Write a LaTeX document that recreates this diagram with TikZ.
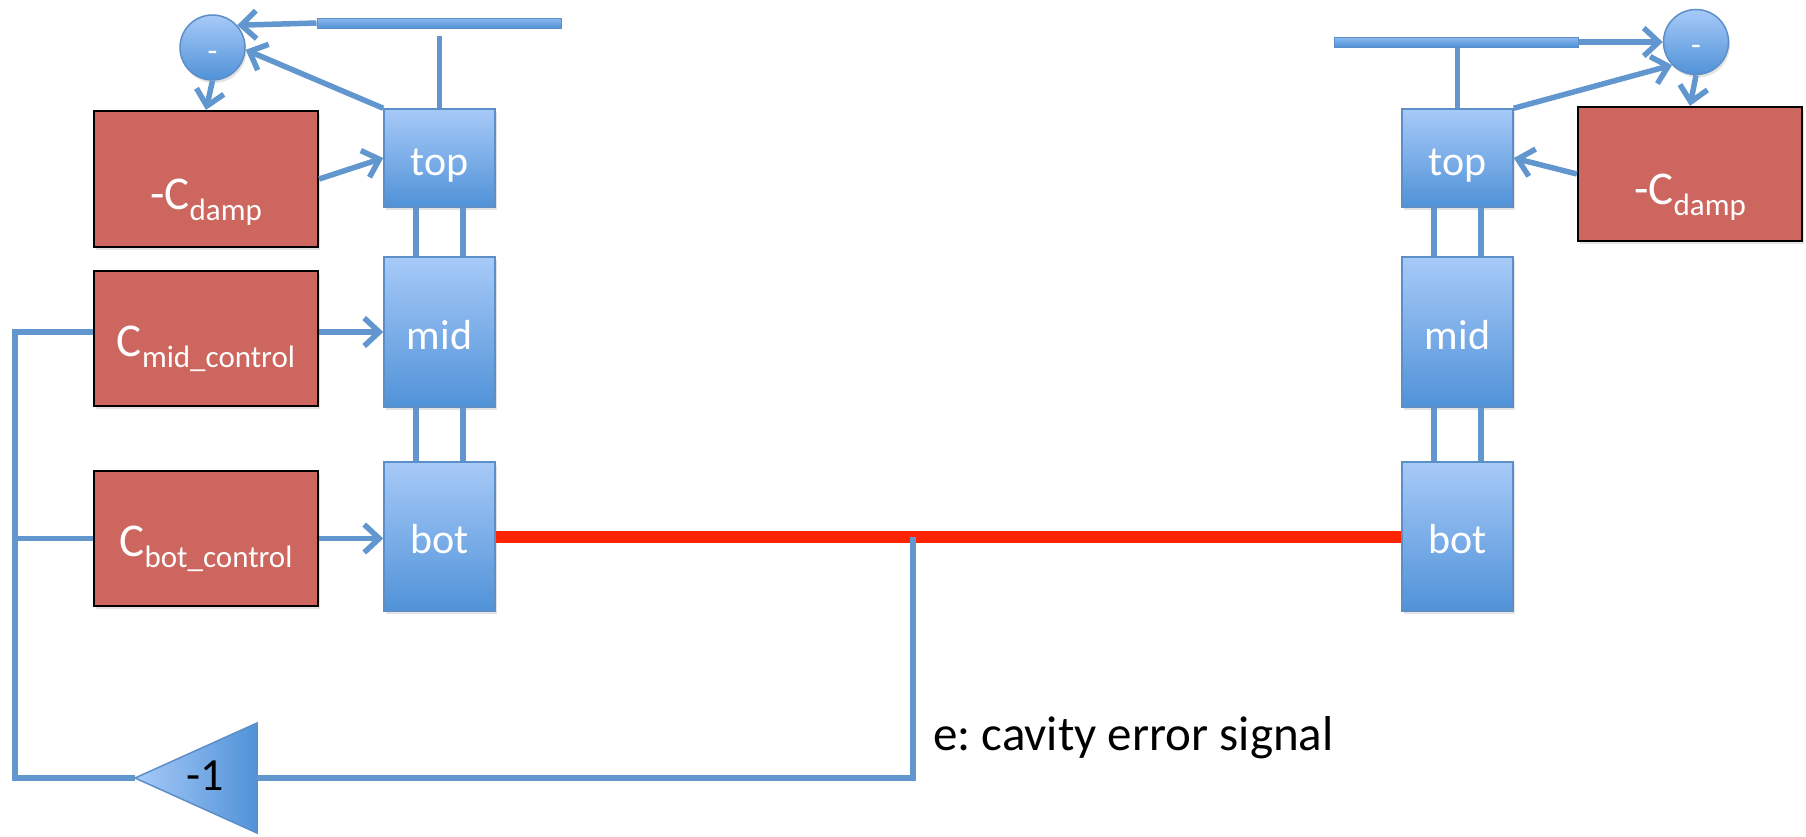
\documentclass[tikz,border=0pt]{standalone}
\usepackage{fontspec}
\setmainfont{Carlito}
\usetikzlibrary{arrows.meta,shadows,calc}

\definecolor{boxtop}{RGB}{167,202,248}
\definecolor{boxbot}{RGB}{80,146,216}
\definecolor{boxedge}{RGB}{92,142,200}
\definecolor{wireblue}{RGB}{98,150,206}
\definecolor{ctrlred}{RGB}{205,102,94}
\definecolor{cavred}{RGB}{255,36,0}

% lowered, smaller text used as a subscript inside the controller boxes
\newcommand{\lowtext}[1]{\raisebox{-0.25em}{\fontsize{31}{31}\selectfont #1}}

\begin{document}
\frenchspacing
\begin{tikzpicture}[x=1pt,y=-1pt,
  softshadow/.style={drop shadow={opacity=0.22,shadow xshift=1.5pt,shadow yshift=-3pt}},
  stage/.style={draw=boxedge, line width=1.5pt, top color=boxtop, bottom color=boxbot,
    text=white, minimum width=111pt, inner sep=0pt, font=\fontsize{42}{42}\selectfont,
    text height=34pt, text depth=0pt, softshadow},
  ctrl/.style={draw=black, line width=2.2pt, fill=ctrlred, text=white,
    minimum width=224pt, minimum height=135pt, inner sep=0pt, text depth=0pt,
    font=\fontsize{47}{47}\selectfont, softshadow},
  sumcirc/.style={circle, draw=boxedge, line width=1.5pt, top color=boxtop, bottom color=boxbot,
    minimum size=65pt, inner sep=0pt, text=white, font=\fontsize{32}{32}\selectfont,
    text height=27pt, text depth=0pt, softshadow},
  railbar/.style={draw=boxedge, line width=1pt, top color=boxtop!70!boxbot, bottom color=boxbot,
    minimum width=244pt, minimum height=10pt, inner sep=0pt},
  wire/.style={draw=wireblue, line width=5.5pt},
  arr/.style={wire, -{Straight Barb[length=15pt,width=28pt]}}
]
\useasboundingbox (0,0) rectangle (1806,836);

% left suspension chain
\node[stage, minimum height=98pt]  (ltop) at (439.5,158)   {top};
\node[stage, minimum height=150pt] (lmid) at (439.5,332)   {mid};
\node[stage, minimum height=149pt] (lbot) at (439.5,536.5) {bot};

% right suspension chain
\node[stage, minimum height=98pt]  (rtop) at (1457.5,158)   {top};
\node[stage, minimum height=150pt] (rmid) at (1457.5,332)   {mid};
\node[stage, minimum height=149pt] (rbot) at (1457.5,536.5) {bot};

% controllers
\node[ctrl, minimum height=136pt, text height=60pt] (ldamp) at (206,179)   {-C\lowtext{damp}};
\node[ctrl, text height=35pt]                       (lmidc) at (206,338.5) {C\lowtext{mid\_control}};
\node[ctrl, text height=35pt]                       (lbotc) at (206,538.5) {C\lowtext{bot\_control}};
\node[ctrl, minimum height=134pt, text height=60pt] (rdamp) at (1690,174)  {-C\lowtext{damp}};

% summing junctions and suspension points
\node[sumcirc] (lsum) at (212.5,47.5) {-};
\node[sumcirc] (rsum) at (1696,42)    {-};
\node[railbar] (lbar) at (439,23)     {};
\node[railbar] (rbar) at (1456.5,42)  {};

% links between stages
\foreach \dx in {-23.5,23.5} {
  \draw[wire] ($(ltop.south)+(\dx,0)$) -- ($(lmid.north)+(\dx,0)$);
  \draw[wire] ($(lmid.south)+(\dx,0)$) -- ($(lbot.north)+(\dx,0)$);
  \draw[wire] ($(rtop.south)+(\dx,0)$) -- ($(rmid.north)+(\dx,0)$);
  \draw[wire] ($(rmid.south)+(\dx,0)$) -- ($(rbot.north)+(\dx,0)$);
}
\draw[wire] (ltop.north) -- ++(0,-72);
\draw[wire] (rtop.north) -- (rbar.south -| rtop.north);

% damping loops
\draw[arr] (lbar.west) -- (lsum.42);
\draw[arr] (ltop.north west) -- (lsum.-4);
\draw[arr] (lsum.south) -- (ldamp.north);
\draw[arr] (ldamp.east) -- (ltop.west);
\draw[arr] (rbar.east) -- (rsum.west);
\draw[arr] (rtop.north east) -- (rsum.224);
\draw[arr] (rsum.south) -- (rdamp.north);
\draw[arr] (rdamp.west) -- (rtop.east);

% cavity
\draw[cavred, line width=12pt] (lbot.east) -- (rbot.west);

% error feedback path
\coordinate (etap) at (913,536.5);
\coordinate (gtip) at (135,778);
\coordinate (gbase) at (257,778);
\coordinate (fbk) at (15,332);
\shade[draw=boxedge, line width=1.5pt, left color=boxtop, right color=boxbot]
  (gtip) -- ($(gbase)+(0,-55)$) -- ($(gbase)+(0,55)$) -- cycle;
\node[font=\fontsize{46}{46}\selectfont, anchor=base, inner sep=0pt] (gainlbl) at (205,790) {-1};

\draw[wire] (etap) -- (etap |- gbase) -- (gbase);
\draw[wire] (gtip) -- (gtip -| fbk) -- (fbk) -- (fbk -| lmidc.west);
\draw[wire] (fbk |- lbotc.west) -- (lbotc.west);
\draw[arr] (lmidc.east |- lmid.west) -- (lmid.west);
\draw[arr] (lbotc.east) -- (lbotc.east -| lbot.west);

\node[anchor=base west, inner sep=0pt, font=\fontsize{49}{49}\selectfont] (errlabel) at (933,750)
  {e: cavity error signal};
\end{tikzpicture}
\end{document}
